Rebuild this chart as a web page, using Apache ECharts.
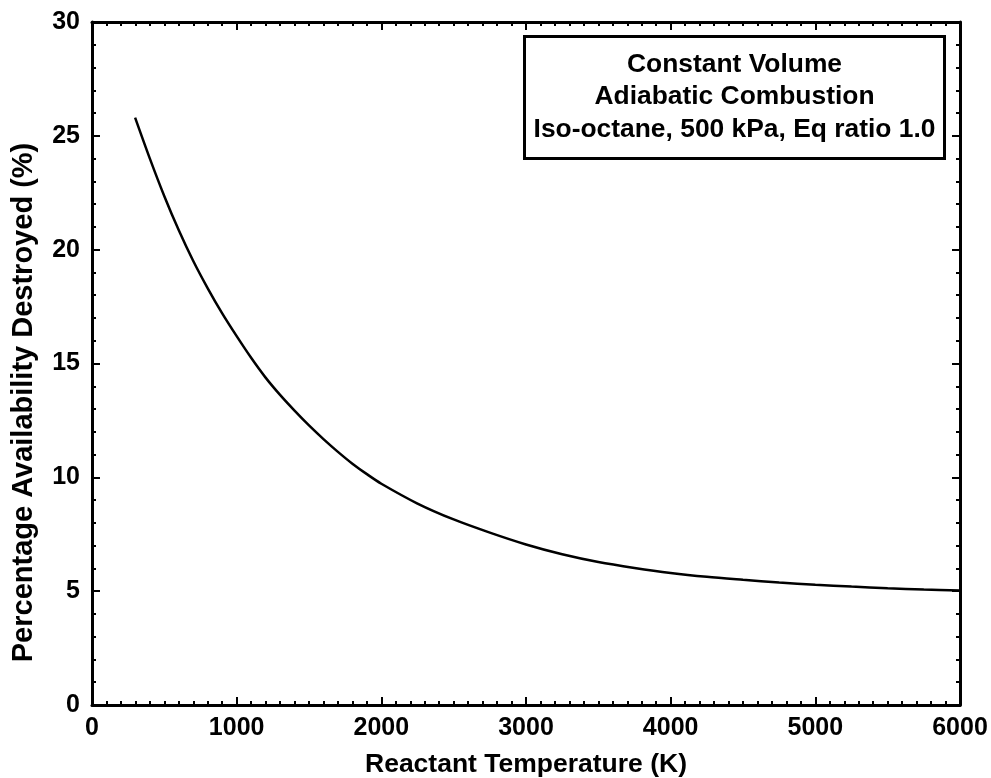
<!DOCTYPE html>
<html>
<head>
<meta charset="utf-8">
<script src="https://cdn.jsdelivr.net/npm/echarts@6/dist/echarts.min.js"></script>
<style>html,body{margin:0;padding:0;background:#fff}#c{width:991px;height:778px}</style>
</head>
<body>
<div id="c"></div>
<script>
var temperatures = [298, 400, 500, 600, 700, 800, 900, 1000, 1100, 1200, 1300, 1400, 1500, 1600, 1700, 1800, 1900, 2000, 2250, 2500, 2750, 3000, 3250, 3500, 3750, 4000, 4250, 4500, 4750, 5000, 5250, 5500, 5750, 6000];
var destroyed = [25.8, 24.0, 22.35, 20.85, 19.5, 18.3, 17.2, 16.2, 15.25, 14.38, 13.62, 12.93, 12.28, 11.68, 11.12, 10.6, 10.14, 9.72, 8.85, 8.15, 7.57, 7.05, 6.62, 6.28, 6.02, 5.8, 5.63, 5.5, 5.38, 5.28, 5.2, 5.13, 5.07, 5.03];
var xTitle = 'Reactant Temperature (K)';
var yTitle = 'Percentage Availability Destroyed (%)';
var boxLines = ['Constant Volume', 'Adiabatic Combustion', 'Iso-octane, 500 kPa, Eq ratio 1.0'];

var FONT = '"Liberation Sans", Arial, sans-serif';
var chart = echarts.init(document.getElementById('c'), null, {renderer: 'canvas'});

function axisCommon(show) {
  return {
    axisLine: {show: true, onZero: false, lineStyle: {color: '#000', width: 3}},
    axisTick: {show: true, inside: true, length: 8, lineStyle: {color: '#000', width: 2}},
    minorTick: {show: true, length: 4, lineStyle: {color: '#000', width: 2}},
    splitLine: {show: false},
    axisLabel: {show: show, color: '#000', fontFamily: FONT, fontWeight: 'bold', fontSize: 25,
      formatter: function (v) { return String(v); }}
  };
}

var xa = axisCommon(true);
var xa2 = axisCommon(false);
var ya = axisCommon(true);
var ya2 = axisCommon(false);

var points = temperatures.map(function (t, i) { return [t, destroyed[i]]; });

chart.setOption({
  animation: false,
  backgroundColor: '#fff',
  grid: {left: 92, right: 31, top: 22, bottom: 73, containLabel: false, outerBoundsMode: 'none'},
  xAxis: [
    Object.assign({type: 'value', position: 'bottom', min: 0, max: 6000, interval: 1000,
      name: xTitle, nameLocation: 'middle', nameGap: 46,
      nameTextStyle: {color: '#000', fontFamily: FONT, fontWeight: 'bold', fontSize: 26.5}}, xa,
      {minorTick: Object.assign({}, xa.minorTick, {splitNumber: 10}), axisLabel: Object.assign({}, xa.axisLabel, {margin: 11})}),
    Object.assign({type: 'value', position: 'top', min: 0, max: 6000, interval: 1000}, xa2,
      {minorTick: Object.assign({}, xa2.minorTick, {splitNumber: 10})})
  ],
  yAxis: [
    Object.assign({type: 'value', position: 'left', min: 0, max: 30, interval: 5,
      name: yTitle, nameLocation: 'middle', nameGap: 54, nameRotate: 90,
      nameTextStyle: {color: '#000', fontFamily: FONT, fontWeight: 'bold', fontSize: 29, padding: [0, 78, 0, 0]}}, ya,
      {minorTick: Object.assign({}, ya.minorTick, {splitNumber: 5}), axisLabel: Object.assign({}, ya.axisLabel, {margin: 12})}),
    Object.assign({type: 'value', position: 'right', min: 0, max: 30, interval: 5}, ya2,
      {minorTick: Object.assign({}, ya2.minorTick, {splitNumber: 5})})
  ],
  graphic: [{
    type: 'group',
    left: 523, top: 35,
    children: [
      {type: 'rect', shape: {x: 0, y: 0, width: 420, height: 122}, style: {fill: '#fff', stroke: '#000', lineWidth: 3}},
      {type: 'text', x: 210, y: 28, style: {text: boxLines[0], fill: '#000', font: 'bold 26.4px ' + FONT, align: 'center', verticalAlign: 'middle'}},
      {type: 'text', x: 210, y: 60, style: {text: boxLines[1], fill: '#000', font: 'bold 26.4px ' + FONT, align: 'center', verticalAlign: 'middle'}},
      {type: 'text', x: 210, y: 93, style: {text: boxLines[2], fill: '#000', font: 'bold 26.4px ' + FONT, align: 'center', verticalAlign: 'middle'}}
    ]
  }],
  series: [{
    type: 'line',
    data: points,
    smooth: 0.3,
    showSymbol: false,
    lineStyle: {color: '#000', width: 2.5},
    z: 1
  }]
});
</script>
</body>
</html>
